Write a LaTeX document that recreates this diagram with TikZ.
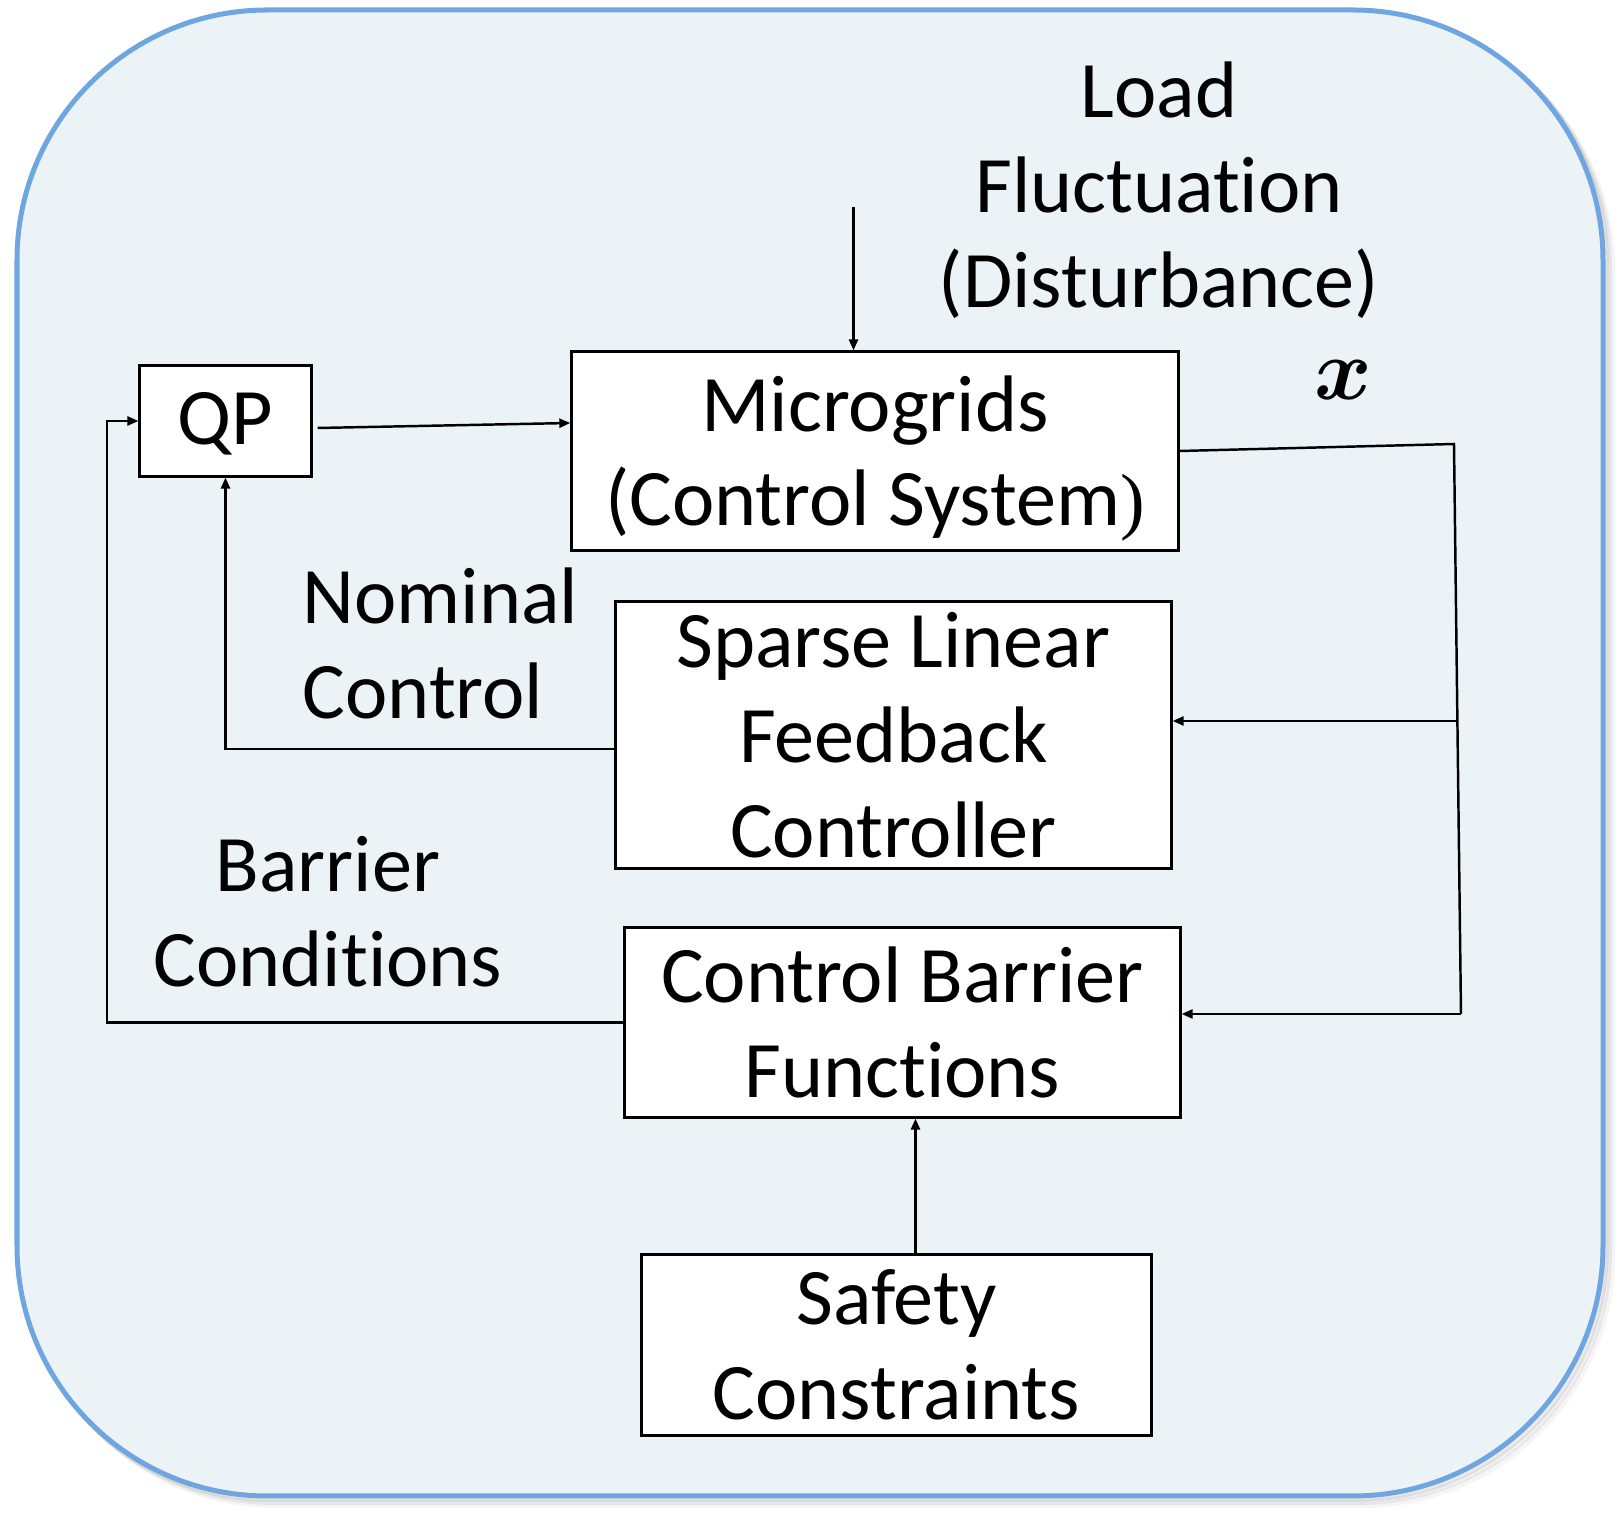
\documentclass[tikz,border=0pt]{standalone}
\usepackage{fontspec}
\usepackage{bm}
\setmainfont[Ligatures=NoCommon]{Carlito}
\newfontfamily\parenfont{Liberation Serif}
\usetikzlibrary{arrows.meta,calc}
\definecolor{frameblue}{RGB}{112,166,224}
\definecolor{panelfill}{RGB}{236,243,247}
\tikzset{
  x=0.01cm, y=-0.01cm,
  bigtext/.style={font=\fontsize{22.8pt}{27pt}\selectfont, inner sep=0pt},
  blockbox/.style={draw=black, fill=white, line width=0.85pt, inner sep=0pt, align=center,
    font=\fontsize{22.8pt}{27pt}\selectfont},
  conn/.style={draw=black, line width=0.7pt},
  arr/.style={conn, -{Triangle[length=0.11cm,width=0.09cm]}},
}
\begin{document}
\begin{tikzpicture}
\useasboundingbox (0,0) rectangle (1620,1522);
% soft shadow
\foreach \o/\op in {9/0.04,6/0.06,3/0.08}{
  \draw[line width=0.06cm, black, opacity=\op, rounded corners=2.5cm] (17+\o,10+\o) rectangle (1603+\o,1496+\o);
}
\draw[draw=frameblue, fill=panelfill, line width=0.05cm, rounded corners=2.5cm] (17,10) rectangle (1603,1496);

% blocks
\node[blockbox, minimum width=1.71cm, minimum height=1.10cm] (QP) at (225.5,421) {\raisebox{-0.03cm}[\height][\depth]{QP}};
\node[blockbox, minimum width=6.06cm, minimum height=1.98cm] (Micro) at (875,451)
  {\raisebox{-0.085cm}[\height][\depth]{\begin{tabular}{@{}c@{}}Microgrids\\(Control System{\parenfont\fontsize{21pt}{27pt}\selectfont )}\end{tabular}}};
\node[blockbox, minimum width=5.55cm, minimum height=2.66cm] (Sparse) at (893.5,735)
  {Sparse Linear\\Feedback\\Controller};
\node[blockbox, minimum width=5.55cm, minimum height=1.89cm] (CBF) at (902.5,1022.5)
  {Control Barrier\\Functions};
\node[blockbox, minimum width=5.09cm, minimum height=1.80cm] (Safety) at (896.5,1345)
  {Safety\\Constraints};

% labels
\node[bigtext, align=center] (load) at (1159,190) {Load\\Fluctuation\\(Disturbance)};
\node[bigtext, align=left, anchor=west] (nominal) at (302,643) {Nominal\\Control};
\node[bigtext, align=center] (barrier) at (328,912) {Barrier\\Conditions};
\node[inner sep=0pt, font=\fontsize{28pt}{30pt}\selectfont] (xlab) at (1343,380) {$\bm{x}$};

% connectors
\coordinate (dist) at (853.5,207);
\draw[arr] (dist) -- (dist |- Micro.north);

\draw[arr] ($(QP.east)+(5,7)$) -- ($(Micro.west)+(0,-28)$);

\coordinate (fbA) at (1454,444);
\coordinate (fbB) at (1461,1014);
\coordinate (fbC) at (1456,721);
\draw[conn] (Micro.east) -- (fbA) -- (fbB);
\draw[arr] (fbB) -- (fbB -| CBF.east);
\draw[arr] (fbC) -- (fbC -| Sparse.east);

\coordinate (ncA) at (225.5,749);
\draw[arr] (ncA -| Sparse.west) -- (ncA) -- (QP.south);

\coordinate (bcA) at (107,1022.5);
\coordinate (bcB) at (107,421);
\draw[arr] (CBF.west) -- (bcA) -- (bcB) -- (QP.west);

\coordinate (sc) at (915.5,1255);
\draw[arr] (sc) -- (sc |- CBF.south);
\end{tikzpicture}
\end{document}
